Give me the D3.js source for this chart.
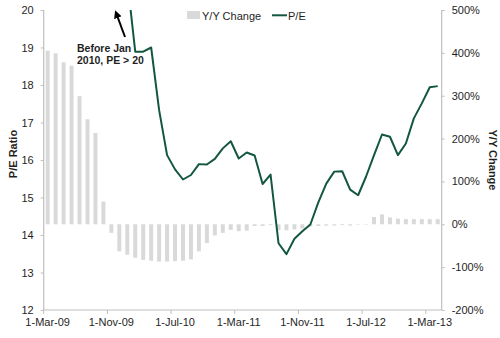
<!DOCTYPE html>
<html>
<head>
<meta charset="utf-8">
<script src="https://cdn.jsdelivr.net/npm/d3@7"></script>
<style>
  html, body { margin: 0; padding: 0; background: #fff; }
  svg { display: block; font-family: "Liberation Sans", Arial, sans-serif; }
</style>
</head>
<body>
<svg id="chart" width="500" height="338"></svg>
<script>
// Monthly observations, Mar 2009 – Apr 2013
const months = d3.timeMonths(new Date(2009, 2, 1), new Date(2013, 4, 1));

// Year-over-year change (%)
const yoyChange = [
  405, 399, 378, 370, 299, 245, 213, 53, -20, -63,
  -71, -78, -83, -85, -87, -87, -86, -85, -82, -63,
  -44, -26, -20, -13, -16, -15, -4, -4, -2, -14,
  -14, -12, -10, -5, -4, -3, -3, -2, -3, -1,
  -1, 17, 23, 16, 13, 12, 12, 12, 12, 12
];

// Price / earnings ratio (values above 20 run off the top of the axis)
const peRatio = [
  null, null, null, null, null, null, null, null, null, null,
  20.8, 18.89, 18.89, 19.0, 17.33, 16.13, 15.75, 15.48, 15.6, 15.89,
  15.88, 16.03, 16.31, 16.5, 16.04, 16.2, 16.12, 15.36, 15.61, 13.78,
  13.49, 13.9, 14.1, 14.28, 14.87, 15.37, 15.69, 15.7, 15.21, 15.06,
  15.56, 16.13, 16.68, 16.62, 16.13, 16.44, 17.11, 17.51, 17.94, 17.97
];

const leftTicks = [12, 13, 14, 15, 16, 17, 18, 19, 20];
const rightTicks = [-200, -100, 0, 100, 200, 300, 400, 500];
const xTickEvery = 8; // one date label every 8 months

const fmtDate = d3.timeFormat("%-d-%b-%y");
const fmtPct = d => d + "%";

const svg = d3.select("#chart");
const plot = { left: 43.7, right: 441.7, top: 10, bottom: 310 };

const x = d3.scaleBand()
  .domain(months.map((d, i) => i))
  .range([plot.left, plot.right])
  .paddingInner(0.5)
  .paddingOuter(0.25);
const step = x.step();
const cx = i => x(i) + x.bandwidth() / 2;

const yL = d3.scaleLinear().domain([12, 20]).range([plot.bottom, plot.top]);
const yR = d3.scaleLinear().domain([-200, 500]).range([plot.bottom, plot.top]);

const axisColor = "#bfbfbf";
const textColor = "#1f1f1f";

svg.append("defs").append("clipPath").attr("id", "plotClip")
  .append("rect")
  .attr("x", plot.left).attr("y", plot.top)
  .attr("width", plot.right - plot.left).attr("height", plot.bottom - plot.top);

// Bars: Y/Y change on the right axis
svg.append("g").selectAll("rect")
  .data(yoyChange)
  .join("rect")
  .attr("x", (d, i) => x(i))
  .attr("width", x.bandwidth())
  .attr("y", d => Math.min(yR(d), yR(0)))
  .attr("height", d => Math.abs(yR(d) - yR(0)))
  .attr("fill", "#d9d9d9");

// Line: P/E on the left axis
const line = d3.line()
  .defined(d => d != null)
  .x((d, i) => cx(i))
  .y(d => yL(d));
svg.append("path")
  .datum(peRatio)
  .attr("clip-path", "url(#plotClip)")
  .attr("fill", "none")
  .attr("stroke", "#14573f")
  .attr("stroke-width", 2)
  .attr("stroke-linejoin", "round")
  .attr("d", line);

// Left axis
const gL = svg.append("g").attr("transform", `translate(${plot.left},0)`)
  .call(d3.axisLeft(yL).tickValues(leftTicks).tickSize(3).tickPadding(7).tickFormat(d3.format("d")));
// Right axis
const gR = svg.append("g").attr("transform", `translate(${plot.right},0)`)
  .call(d3.axisRight(yR).tickValues(rightTicks).tickSize(3).tickPadding(7).tickFormat(fmtPct));
// Bottom axis: labels centred on months, ticks on month boundaries
const labelIdx = months.map((d, i) => i).filter(i => i % xTickEvery === 0);
const gB = svg.append("g").attr("transform", `translate(0,${plot.bottom})`)
  .call(d3.axisBottom(x).tickValues(labelIdx).tickSize(0).tickPadding(8)
    .tickFormat(i => fmtDate(months[i])));
gB.selectAll(".tick line").remove();
gB.selectAll(".tickmark")
  .data(labelIdx)
  .join("line")
  .attr("class", "tickmark")
  .attr("x1", i => x(i) - (step - x.bandwidth()) / 2)
  .attr("x2", i => x(i) - (step - x.bandwidth()) / 2)
  .attr("y1", 0).attr("y2", 4)
  .attr("stroke", axisColor);

[gL, gR, gB].forEach(g => {
  g.select(".domain").attr("stroke", axisColor).attr("stroke-width", 1.2);
  g.selectAll(".tick line").attr("stroke", axisColor);
  g.selectAll("text").attr("fill", textColor).style("font-size", "11px")
    .style("font-family", "'Liberation Sans', Arial, sans-serif");
});
gL.select(".domain").attr("d", `M0,${plot.top}V${plot.bottom}`);
gR.select(".domain").attr("d", `M0,${plot.top}V${plot.bottom}`);
gB.select(".domain").attr("d", `M${plot.left},0H${plot.right}`);

// Axis titles
svg.append("text")
  .attr("transform", `translate(17,${(plot.top + plot.bottom) / 2 - 6}) rotate(-90)`)
  .attr("text-anchor", "middle")
  .attr("font-weight", "bold").attr("font-size", 11).attr("fill", textColor)
  .text("P/E Ratio");
svg.append("text")
  .attr("transform", `translate(489,${(plot.top + plot.bottom) / 2}) rotate(90)`)
  .attr("text-anchor", "middle")
  .attr("font-weight", "bold").attr("font-size", 11).attr("fill", textColor)
  .text("Y/Y Change");

// Legend
const lg = svg.append("g");
lg.append("rect").attr("x", 187).attr("y", 11).attr("width", 13).attr("height", 8).attr("fill", "#d9d9d9");
lg.append("text").attr("x", 202).attr("y", 19.5).attr("font-size", 11).attr("fill", textColor).text("Y/Y Change");
lg.append("line").attr("x1", 272).attr("x2", 287).attr("y1", 15.3).attr("y2", 15.3)
  .attr("stroke", "#14573f").attr("stroke-width", 2);
lg.append("text").attr("x", 288).attr("y", 19.5).attr("font-size", 11).attr("fill", textColor).text("P/E");

// Annotation with arrow
svg.append("defs").append("marker")
  .attr("id", "arrowHead").attr("viewBox", "0 0 10 10")
  .attr("refX", 5).attr("refY", 5)
  .attr("markerWidth", 4).attr("markerHeight", 4)
  .attr("orient", "auto")
  .append("path").attr("d", "M0,0L10,5L0,10z").attr("fill", "#000");
svg.append("line")
  .attr("x1", 125).attr("y1", 37).attr("x2", 116.5).attr("y2", 14)
  .attr("stroke", "#000").attr("stroke-width", 2)
  .attr("marker-end", "url(#arrowHead)");
const note = svg.append("text").attr("x", 77).attr("font-weight", "bold")
  .attr("font-size", 10.5).attr("fill", textColor);
note.append("tspan").attr("x", 77).attr("y", 51.5).text("Before Jan");
note.append("tspan").attr("x", 77).attr("y", 64).text("2010, PE > 20");
</script>
</body>
</html>
